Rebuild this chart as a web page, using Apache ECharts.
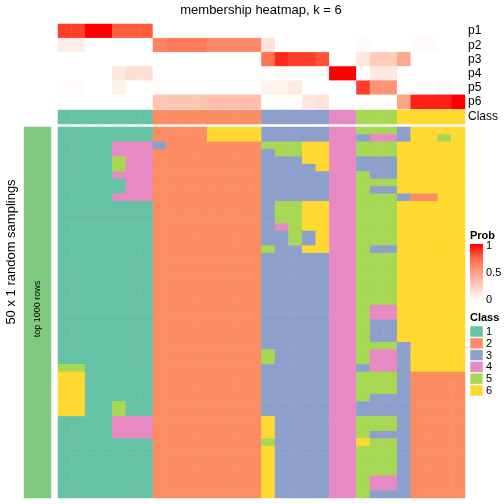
<!DOCTYPE html>
<html>
<head>
<meta charset="utf-8">
<script src="https://cdn.jsdelivr.net/npm/echarts@6/dist/echarts.min.js"></script>
<style>html,body{margin:0;padding:0;background:#fff}#c{width:504px;height:504px}</style>
</head>
<body>
<div id="c"></div>
<script>
// ---- data ----
const probNames = ['p1', 'p2', 'p3', 'p4', 'p5', 'p6'];
const p1 = [0.85,0.85,1,1,0.78,0.78,0.78,0,0,0,0,0,0,0,0,0,0,0,0,0,0,0,0,0,0,0,0,0,0,0];
const p2 = [0.1,0.1,0,0,0,0,0,0.62,0.66,0.66,0.66,0.6,0.6,0.6,0.6,0.15,0,0,0,0,0,0,0.02,0,0,0,0.02,0.02,0,0];
const p3 = [0,0,0,0,0,0,0,0,0,0,0,0,0,0,0,0.7,0.9,0.85,0.85,0.8,0,0,0.12,0.27,0.27,0.45,0,0,0,0];
const p4 = [0,0,0,0,0.12,0.17,0.17,0,0,0,0,0,0,0,0,0,0.02,0,0,0,1,1,0,0.12,0.12,0,0,0,0,0];
const p5 = [0.02,0.02,0,0,0.07,0,0,0.02,0,0,0,0,0,0,0,0.07,0.07,0.11,0,0,0,0,0.85,0.55,0.55,0,0,0,0.02,0];
const p6 = [0,0,0,0,0,0,0,0.3,0.3,0.3,0.3,0.33,0.33,0.33,0.33,0,0,0,0.12,0.15,0,0,0,0,0,0.48,0.92,0.92,0.92,1];
const sampleClass = [1,1,1,1,1,1,1,2,2,2,2,2,2,2,2,3,3,3,3,3,4,4,5,5,5,6,6,6,6,6];
// 50 random samplings (rows) x 30 samples (columns), class per cell
const samplingRows = [
 '111111122226666333334455536666',
 '111111122226666333334434436656',
 '111144432222222555664455566666',
 '111144422222222355664455566666',
 '111154422222222333664433366666',
 '111154422222222333364433366666',
 '111144422222222333334453366666',
 '111114422222222333334455566666',
 '111114422222222333334453366666',
 '111144422222222333334455532266',
 '111111122222222355664455566666',
 '111111122222222355664455566666',
 '111111122222222355664455566666',
 '111111122222222345664455566666',
 '111111122222222335364455566666',
 '111111122222222335364455566666',
 '111111122222222533664453366666',
 '111111122222222333334455566666',
 '111111122222222333334455566666',
 '111111122222222333334455566666',
 '111111122222222333334455566666',
 '111111122222222333334455566666',
 '111111122222222333334455566666',
 '111111122222222333334455566666',
 '111111122222222333334454466666',
 '111111122222222333334454466666',
 '111111122222222333334453366666',
 '111111122222222333334453366666',
 '111111122222222333334453366666',
 '111111122222222333334455536666',
 '111111122222222533334454436666',
 '111111122222222533334454436666',
 '551111122222222333334434436666',
 '661111122222222333334455532222',
 '661111122222222333334455532222',
 '661111122222222333334455532222',
 '661111122222222333334453332222',
 '661151122222222333334433332222',
 '661151122222222333334433332222',
 '111144422222222633334455532222',
 '111144422222222633334455532222',
 '111144422222222633334453332222',
 '111111122222222533334465532222',
 '111111122222222633334455532222',
 '111111122222222633334455532222',
 '111111122222222633334455532222',
 '111111122222222633334455532222',
 '111111122222222633334454432222',
 '111111122222222633334454432222',
 '111111122222222633334453332222'
];
const classLabels = ['1', '2', '3', '4', '5', '6'];
const probTicks = ['1', '0.5', '0'];

// ---- styles ----
const classColors = ['#66C2A5', '#FC8D62', '#8DA0CB', '#E78AC3', '#A6D854', '#FFD92F'];
const probColors = ['#FFFFFF', '#FFCFBF', '#FF9E81', '#FF6746', '#FF0000'];
const FONT = 'Liberation Sans, Arial, Helvetica, sans-serif';

const probs = [p1, p2, p3, p4, p5, p6];
const nCol = sampleClass.length;
const cols = sampleClass.map((_, i) => String(i));
const rowIds = samplingRows.map((_, i) => String(i));

const probData = [];
probs.forEach((arr, r) => arr.forEach((v, c) => probData.push([c, r, v])));
const classData = sampleClass.map((v, c) => [c, 0, v]);
const mainData = [];
samplingRows.forEach((s, r) => { for (let c = 0; c < nCol; c++) mainData.push([c, r, +s[c]]); });

const L = 58, W = 407;
const hidden = { show: false };
function xCat(gi) { return { type: 'category', gridIndex: gi, data: cols, show: false }; }

const graphics = [];
function txt(x, y, text, font, extra) {
  graphics.push(Object.assign({ type: 'text', z: 100, x: x, y: y, style: { text: text, font: font, fill: '#000', textAlign: 'left', textVerticalAlign: 'middle' } }, extra || {}));
}
// title
graphics.push({ type: 'text', z: 100, x: 261, y: 10, style: { text: 'membership heatmap, k = 6', font: '13px ' + FONT, fill: '#000', textAlign: 'center', textVerticalAlign: 'middle' } });
// left titles
graphics.push({ type: 'text', z: 100, x: 11, y: 252, rotation: Math.PI / 2, style: { text: '50 x 1 random samplings', font: '13px ' + FONT, fill: '#000', textAlign: 'center', textVerticalAlign: 'middle' } });
graphics.push({ type: 'text', z: 100, x: 38, y: 309, rotation: Math.PI / 2, style: { text: 'top 1000 rows', font: '9px ' + FONT, fill: '#000', textAlign: 'center', textVerticalAlign: 'middle' } });
// Prob legend
txt(470, 236, 'Prob', 'bold 11px ' + FONT);
graphics.push({ type: 'rect', z: 100, shape: { x: 470, y: 244, width: 13, height: 56 }, style: { fill: { type: 'linear', x: 0, y: 0, x2: 0, y2: 1, colorStops: probColors.slice().reverse().map((c, i) => ({ offset: i / 4, color: c })) } } });
probTicks.forEach((t, i) => { txt(486, 246 + i * 27, t, '11px ' + FONT); });
// Class legend
txt(470, 318, 'Class', 'bold 11px ' + FONT);
classLabels.forEach((t, i) => {
  const y = 326 + i * 11.8;
  graphics.push({ type: 'rect', z: 100, shape: { x: 470, y: y, width: 13, height: 11 }, style: { fill: classColors[i], stroke: '#ffffff', lineWidth: 0.5 } });
  txt(486, y + 6, t, '11px ' + FONT);
});

const option = {
  animation: false,
  backgroundColor: '#fff',
  grid: [
    { left: L, top: 24, width: W, height: 85 },
    { left: L, top: 110, width: W, height: 14 },
    { left: L, top: 127, width: W, height: 371 },
    { left: 24, top: 127, width: 27, height: 371 }
  ],
  xAxis: [xCat(0), xCat(1), xCat(2), { type: 'category', gridIndex: 3, data: ['a'], show: false }],
  yAxis: [
    { type: 'category', gridIndex: 0, data: probNames, inverse: true, position: 'right', axisLine: hidden, axisTick: hidden, splitLine: hidden, axisLabel: { show: true, interval: 0, margin: 3, fontSize: 12, fontFamily: FONT, color: '#000' } },
    { type: 'category', gridIndex: 1, data: ['Class'], position: 'right', axisLine: hidden, axisTick: hidden, splitLine: hidden, axisLabel: { show: true, interval: 0, margin: 3, fontSize: 12, fontFamily: FONT, color: '#000' } },
    { type: 'category', gridIndex: 2, data: rowIds, inverse: true, show: false },
    { type: 'category', gridIndex: 3, data: ['b'], show: false }
  ],
  visualMap: [
    { type: 'continuous', show: false, min: 0, max: 1, seriesIndex: 0, inRange: { color: probColors } },
    { type: 'piecewise', show: false, seriesIndex: [1, 2, 3], pieces: classColors.map((c, i) => ({ value: i + 1, color: c })).concat([{ value: 7, color: '#7FC97F' }]) }
  ],
  series: [
    { type: 'heatmap', xAxisIndex: 0, yAxisIndex: 0, data: probData, progressive: 0 },
    { type: 'heatmap', xAxisIndex: 1, yAxisIndex: 1, data: classData, progressive: 0 },
    { type: 'heatmap', xAxisIndex: 2, yAxisIndex: 2, data: mainData, progressive: 0 },
    { type: 'heatmap', xAxisIndex: 3, yAxisIndex: 3, data: [[0, 0, 7]], progressive: 0 }
  ],
  graphic: graphics
};
const chart = echarts.init(document.getElementById('c'), null, { renderer: 'canvas' });
chart.setOption(option);
</script>
</body>
</html>
